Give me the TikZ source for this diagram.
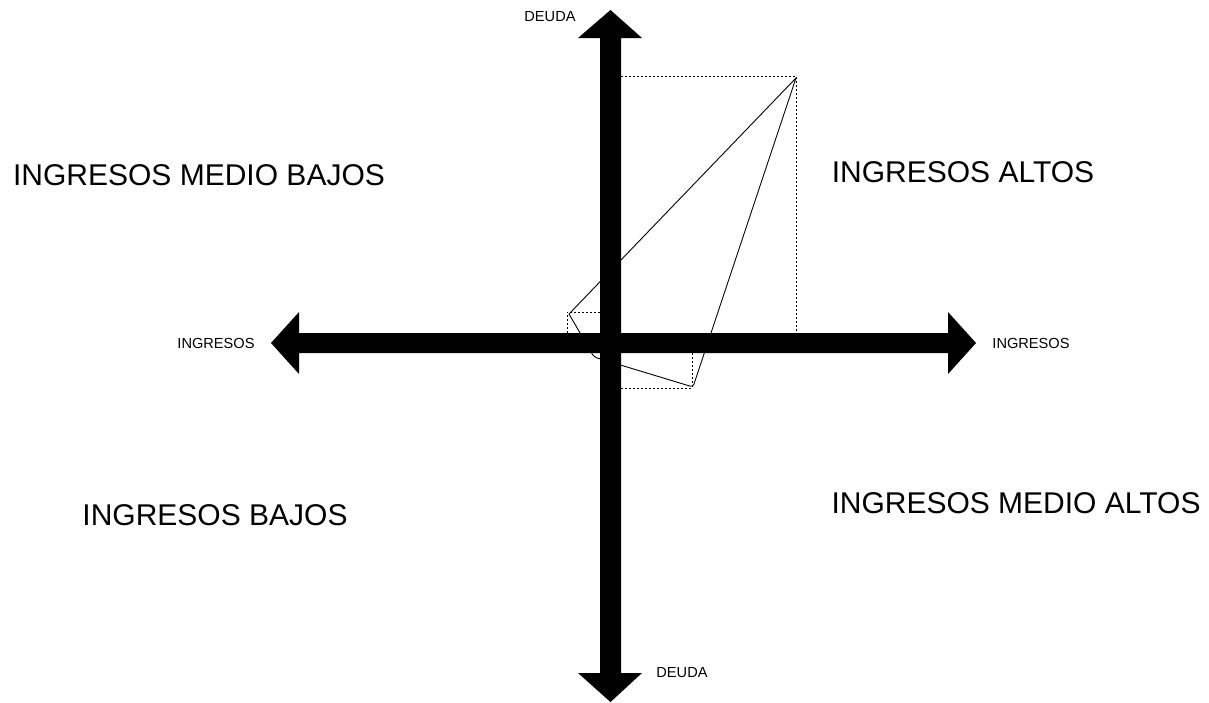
\documentclass[tikz,border=0pt]{standalone}
\usepackage{fontspec}
\setmainfont{Liberation Sans}
\begin{document}
\begin{tikzpicture}[x=1pt,y=-1pt,
  big/.style={font=\fontsize{30}{30}\selectfont, inner sep=0pt, anchor=center},
  small/.style={font=\fontsize{14.6}{15}\selectfont, inner sep=0pt, anchor=center},
  guide/.style={densely dashed, line width=0.8pt, dash pattern=on 2pt off 2pt},
  thin/.style={line width=0.9pt}]
\useasboundingbox (0,0) rectangle (1209,702);
% coordinates of the polygon
\coordinate (P1) at (796,78);
\coordinate (P2) at (569,314);
\coordinate (P3) at (594,357);
\coordinate (P4) at (693,387);
% dashed guides
\draw[guide] (621,76) -- (796,76) -- (796,333);
\draw[guide] (567,333) -- (567,312) -- (600,312);
\draw[guide] (621,388) -- (692,388) -- (692,353);
% polygon
\draw[thin, line join=round] (P1) -- (P2) [rounded corners=3pt]-- (P3) -- (P4) [sharp corners]-- cycle;
% axes (thick arrows)
\fill[black] (610.5,10) -- (642,38) -- (621,38) -- (621,673) -- (642,673) -- (610.5,702)
  -- (578,673) -- (600,673) -- (600,38) -- (578,38) -- cycle;
\fill[black] (271,343) -- (299,312) -- (299,333) -- (948,333) -- (948,312) -- (976,343)
  -- (948,374) -- (948,353) -- (299,353) -- (299,374) -- cycle;
% labels
\node[small] (dtop) at (550,17) {DEUDA};
\node[small] (dbot) at (682,673) {DEUDA};
\node[small] (ileft) at (216,343) {INGRESOS};
\node[small] (iright) at (1031,343) {INGRESOS};
\node[big] (mb) at (199,175) {INGRESOS MEDIO BAJOS};
\node[big] (al) at (963,172) {INGRESOS ALTOS};
\node[big] (ba) at (215,515) {INGRESOS BAJOS};
\node[big] (ma) at (1016,503) {INGRESOS MEDIO ALTOS};
\end{tikzpicture}
\end{document}
